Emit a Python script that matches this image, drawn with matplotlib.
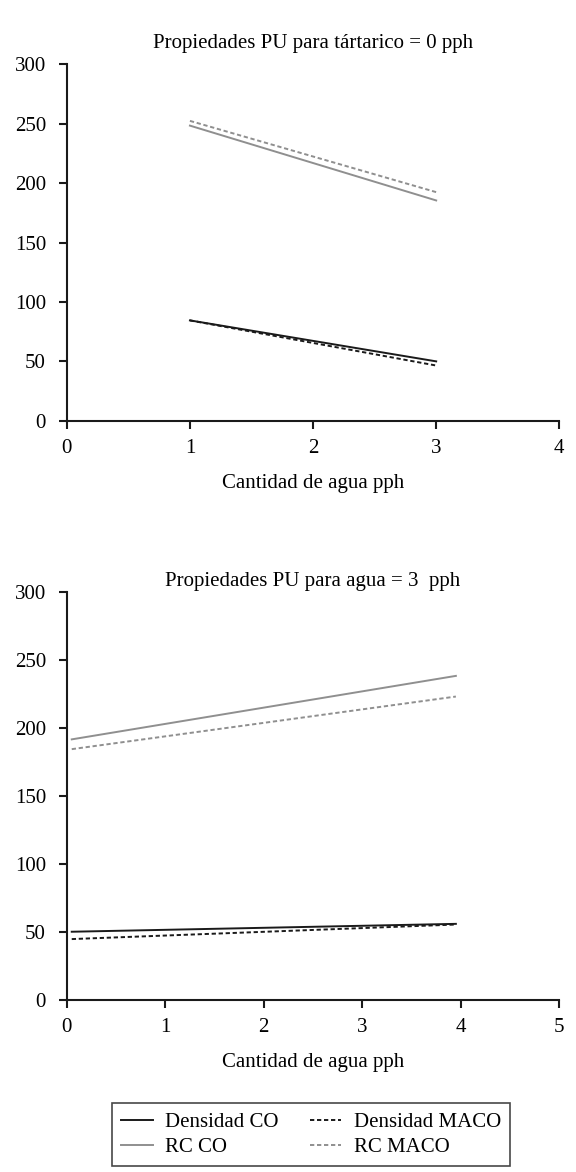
import matplotlib.pyplot as plt

# datos panel superior (tartarico = 0 pph)
agua = [1, 3]
dens_co_1 = [84.5, 50]
dens_maco_1 = [84.5, 46.5]
rc_co_1 = [248.5, 185.5]
rc_maco_1 = [252.5, 192.5]

# datos panel inferior (agua = 3 pph)
agua_2 = [0.05, 3.95]
dens_co_2 = [50, 55.8]
dens_maco_2 = [44.6, 55.3]
rc_co_2 = [191.5, 238.2]
rc_maco_2 = [184.3, 223]

etiquetas = ["Densidad CO", "RC CO", "Densidad MACO", "RC MACO"]
titulos = ["Propiedades PU para tártarico = 0 pph", "Propiedades PU para agua = 3  pph"]

plt.rcParams['font.family'] = ['Liberation Serif', 'DejaVu Serif']
tam = 15

negro = '#1a1a1a'
gris = '#8f8f8f'
punteado = (0, (2.2, 1.4))

fig = plt.figure(figsize=(5.76, 11.72), dpi=100)
ax1 = fig.add_axes([0.116, 0.641, 0.855, 0.304])
ax2 = fig.add_axes([0.116, 0.147, 0.855, 0.348])


def estilo(ax, xmax, titulo, pad_titulo):
    ax.set_xlim(0, xmax)
    ax.set_ylim(0, 300)
    ax.set_yticks(range(0, 301, 50))
    ax.set_xticks(range(0, xmax + 1))
    ax.spines['top'].set_visible(False)
    ax.spines['right'].set_visible(False)
    for s in ('left', 'bottom'):
        ax.spines[s].set_linewidth(1.5)
        ax.spines[s].set_color(negro)
    ax.tick_params(direction='out', length=6, width=1.5, color=negro, labelsize=tam)
    ax.tick_params(axis='y', pad=9)
    ax.tick_params(axis='x', pad=7)
    ax.set_xlabel("Cantidad de agua pph", fontsize=tam, labelpad=12)
    ax.set_title(titulo, fontsize=tam, pad=pad_titulo)


ax1.plot(agua, dens_co_1, color=negro, lw=1.4, label=etiquetas[0])
ax1.plot(agua, rc_co_1, color=gris, lw=1.4, label=etiquetas[1])
ax1.plot(agua, dens_maco_1, color=negro, lw=1.4, ls=punteado, label=etiquetas[2])
ax1.plot(agua, rc_maco_1, color=gris, lw=1.4, ls=punteado, label=etiquetas[3])
estilo(ax1, 4, titulos[0], 12)

ax2.plot(agua_2, dens_co_2, color=negro, lw=1.4)
ax2.plot(agua_2, rc_co_2, color=gris, lw=1.4)
ax2.plot(agua_2, dens_maco_2, color=negro, lw=1.4, ls=punteado)
ax2.plot(agua_2, rc_maco_2, color=gris, lw=1.4, ls=punteado)
estilo(ax2, 5, titulos[1], 4)

handles, labels = ax1.get_legend_handles_labels()
leg = fig.legend(handles, labels, loc='lower center', bbox_to_anchor=(0.54, -0.004), ncol=2,
                 frameon=True, fancybox=False, fontsize=tam, handlelength=1.5,
                 handletextpad=0.6, columnspacing=1.5, labelspacing=0.25, borderpad=0.45)
leg.get_frame().set_edgecolor(negro)
leg.get_frame().set_linewidth(1.2)

fig.savefig("out.png", dpi=100)
